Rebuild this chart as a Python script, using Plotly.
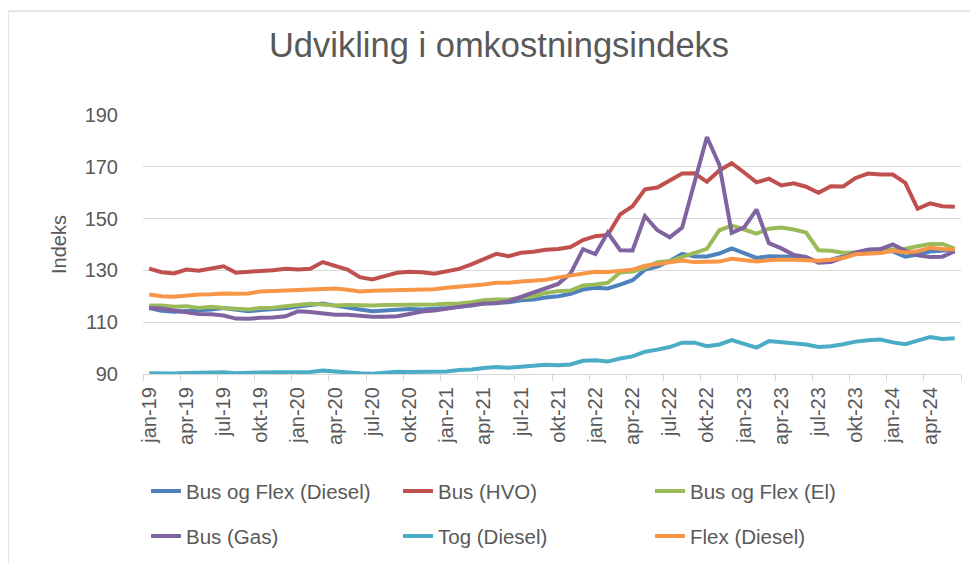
"""
Udvikling i omkostningsindeks - linjediagram med seks indeksserier (jan-19 .. jun-24).
"""

import plotly.graph_objects as go


MAANEDER = ["jan", "feb", "mar", "apr", "maj", "jun",
            "jul", "aug", "sep", "okt", "nov", "dec"]

# Kategorier: en pr. måned fra jan-19 til jun-24
months = [f"{m}-{y}" for y in range(19, 25) for m in MAANEDER][:66]

bus_flex_diesel = [
    115.5, 114.4, 114.0, 114.2, 114.4, 114.9, 115.5, 114.7, 114.2, 114.7, 114.9, 115.4,
    116.1, 116.8, 117.2, 116.4, 115.5, 114.9, 114.2, 114.4, 114.7, 115.1, 114.9, 115.1,
    115.5, 116.0, 116.4, 117.2, 117.5, 117.7, 118.5, 118.8, 119.5, 120.0, 121.0, 122.6,
    123.3, 123.0, 124.5, 126.2, 130.3, 131.5, 133.6, 136.4, 135.4, 135.4, 136.5, 138.5,
    136.7, 134.8, 135.5, 135.5, 135.3, 134.5, 133.4, 134.1, 135.5, 137.0, 138.0, 138.2,
    137.3, 135.3, 136.1, 137.3, 137.8, 138.0,
]
bus_hvo = [
    130.7, 129.3, 128.8, 130.3, 129.9, 130.6, 131.6, 129.1, 129.6, 129.8, 130.1, 130.6,
    130.3, 130.6, 133.2, 131.6, 130.3, 127.4, 126.5, 127.8, 129.1, 129.5, 129.3, 128.7,
    129.6, 130.6, 132.3, 134.5, 136.4, 135.5, 136.8, 137.2, 138.0, 138.3, 139.0, 141.7,
    143.2, 143.7, 151.6, 154.8, 161.3, 162.0, 164.7, 167.4, 167.5, 164.2, 168.6, 171.4,
    167.8, 164.0, 165.4, 162.8, 163.6, 162.3, 160.0, 162.5, 162.4, 165.7, 167.4, 167.0,
    167.0, 163.8, 153.8, 155.9, 154.8, 154.6,
]
bus_flex_el = [
    116.4, 116.4, 116.0, 116.2, 115.5, 116.0, 115.5, 115.1, 114.9, 115.5, 115.6, 116.2,
    116.6, 117.1, 116.8, 116.4, 116.6, 116.4, 116.4, 116.6, 116.6, 116.8, 116.6, 116.8,
    117.1, 117.2, 117.7, 118.5, 118.8, 118.8, 119.4, 120.0, 121.3, 122.0, 122.2, 124.2,
    124.6, 125.2, 129.2, 129.6, 131.0, 133.2, 133.6, 135.2, 137.0, 138.3, 145.5, 147.3,
    145.8, 144.2, 146.1, 146.6, 145.8, 144.6, 137.8, 137.6, 136.8, 136.9, 137.1, 137.8,
    138.1, 138.4, 139.3, 140.2, 140.2, 138.4,
]
bus_gas = [
    115.5, 115.3, 114.5, 113.9, 113.2, 113.1, 112.6, 111.4, 111.3, 111.7, 111.8, 112.3,
    114.2, 113.9, 113.4, 112.9, 112.9, 112.5, 112.1, 112.1, 112.3, 113.2, 114.1, 114.5,
    115.3, 115.8, 116.6, 117.2, 117.3, 118.1, 119.8, 121.1, 122.8, 124.8, 128.8, 138.2,
    136.3, 144.6, 137.8, 137.7, 151.0, 145.5, 142.8, 146.5, 164.0, 181.5, 170.8, 144.5,
    146.6, 153.5, 140.5, 138.5, 136.0, 135.2, 133.0, 133.2, 134.9, 136.9, 138.0, 138.2,
    140.0, 137.6, 135.8, 135.2, 135.3, 137.4,
]
tog_diesel = [
    90.3, 90.1, 90.2, 90.4, 90.6, 90.6, 90.7, 90.3, 90.6, 90.6, 90.7, 90.8,
    90.8, 90.8, 91.3, 90.9, 90.5, 90.3, 90.1, 90.5, 90.9, 90.8, 90.8, 90.9,
    91.0, 91.5, 91.7, 92.3, 92.7, 92.4, 92.8, 93.1, 93.6, 93.4, 93.7, 95.1,
    95.3, 94.8, 96.0, 96.8, 98.6, 99.4, 100.4, 102.1, 102.1, 100.7, 101.4, 103.1,
    101.8, 100.2, 102.7, 102.3, 102.0, 101.4, 100.4, 100.7, 101.5, 102.5, 103.0, 103.3,
    102.2, 101.5, 102.9, 104.3, 103.5, 103.8,
]
flex_diesel = [
    120.7, 120.0, 119.8, 120.3, 120.7, 120.8, 121.1, 121.0, 121.1, 121.9, 122.1, 122.1,
    122.6, 122.7, 122.9, 123.0, 122.5, 121.9, 122.1, 122.2, 122.3, 122.6, 122.7, 122.7,
    123.3, 123.7, 124.0, 124.6, 125.2, 125.2, 125.7, 126.1, 126.4, 127.3, 128.1, 128.8,
    129.5, 129.4, 129.9, 130.3, 131.8, 132.5, 133.2, 133.8, 133.2, 133.2, 133.4, 134.5,
    134.1, 133.4, 133.9, 134.2, 134.1, 133.8, 133.7, 134.1, 134.8, 136.2, 136.5, 136.7,
    137.6, 136.9, 137.4, 138.7, 138.3, 138.1,
]

y_ticks = [90, 110, 130, 150, 170, 190]

# (navn, data, farve, legende) - Excel 2010-paletten
SERIES = [
    ("Bus og Flex (Diesel)", bus_flex_diesel, "#4F81BD", "legend"),
    ("Bus (HVO)",            bus_hvo,         "#C0504D", "legend"),
    ("Bus og Flex (El)",     bus_flex_el,     "#9BBB59", "legend"),
    ("Bus (Gas)",            bus_gas,         "#8064A2", "legend2"),
    ("Tog (Diesel)",         tog_diesel,      "#4BACC6", "legend2"),
    ("Flex (Diesel)",        flex_diesel,     "#F79646", "legend2"),
]

# Siden har 8 px body-margin, så figuren er 8 px mindre end vinduet
OFF = 8
W, H = 978 - OFF, 564 - OFF
L, R, T, B = 143 - OFF, 17, 115 - OFF, 189.5
PW, PH = W - L - R, H - T - B

TXT = "#595959"
GRID = "#D9D9D9"
FONT = "Liberation Sans, Arial, sans-serif"


def px_x(px):
    """Vinduespixel -> paper x."""
    return (px - OFF - L) / PW


def px_y(py):
    """Vinduespixel -> paper y."""
    return 1 - (py - OFF - T) / PH


x_idx = list(range(len(months)))

fig = go.Figure()
for name, vals, color, leg in SERIES:
    fig.add_trace(go.Scatter(
        x=x_idx, y=vals, name=name, mode="lines",
        line=dict(color=color, width=4),
        legend=leg,
    ))

legend_common = dict(
    orientation="h", xanchor="left", yanchor="middle",
    font=dict(size=20.5, color=TXT, family=FONT),
    entrywidth=207, entrywidthmode="pixels",
    bgcolor="rgba(0,0,0,0)", itemclick=False,
)

fig.update_layout(
    width=W, height=H,
    margin=dict(l=L, r=R, t=T, b=B, autoexpand=False),
    paper_bgcolor="white", plot_bgcolor="white",
    font=dict(family=FONT, color=TXT),
    title=dict(text="Udvikling i omkostningsindeks",
               font=dict(size=34.5, color=TXT, family=FONT),
               x=(499 - OFF) / W, xanchor="center", xref="container",
               y=1 - (45 - OFF) / H, yanchor="middle", yref="container"),
    showlegend=True,
    legend=dict(x=px_x(146), y=px_y(492), **legend_common),
    legend2=dict(x=px_x(146), y=px_y(537), **legend_common),
    xaxis=dict(
        range=[-0.5, len(months) - 0.5],
        tickmode="array", tickvals=x_idx[::3], ticktext=months[::3],
        tickangle=-90, ticks="", showgrid=False, zeroline=False,
        tickfont=dict(size=20, color=TXT, family=FONT),
        ticklabelstandoff=4,
        showline=True, linecolor=GRID, linewidth=1.3,
        minor=dict(tick0=-0.5, dtick=3, ticks="outside", ticklen=6,
                   tickcolor=GRID, tickwidth=1.3, showgrid=False),
        automargin=False,
    ),
    yaxis=dict(
        range=[90, 190], tickmode="array", tickvals=y_ticks,
        showgrid=True, gridcolor=GRID, gridwidth=1.3, zeroline=False,
        ticks="", ticklabelstandoff=24,
        tickfont=dict(size=20, color=TXT, family=FONT),
        title=dict(text="Indeks", standoff=12,
                   font=dict(size=20, color=TXT, family=FONT)),
        automargin=False,
    ),
)

# Ramme om diagramområdet (venstre og øverste kant er synlige)
fig.add_shape(type="rect", xref="paper", yref="paper",
              x0=px_x(8), x1=px_x(978 + 20), y0=px_y(564 + 20), y1=px_y(11),
              line=dict(color=GRID, width=1.3), fillcolor="rgba(0,0,0,0)",
              layer="below")

fig.write_html("out.html")
